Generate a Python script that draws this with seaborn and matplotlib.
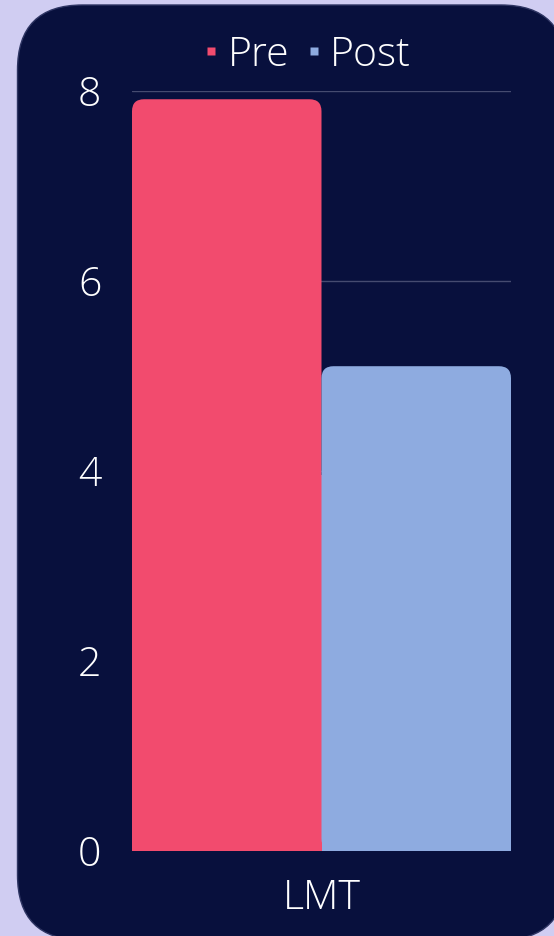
import pandas as pd
import numpy as np
import matplotlib.pyplot as plt
import seaborn as sns
from matplotlib.patches import FancyBboxPatch, Rectangle
from matplotlib.lines import Line2D

# data
tests = ['LMT', 'LMT']
phases = ['Pre', 'Post']
scores = [7.91, 5.10]
colors = ['#f24b6e', '#8eabe0']

df = pd.DataFrame({'test': tests, 'phase': phases, 'score': scores})

bg = '#08103d'
outer = '#d0cdf2'
txt = 'white'
fs = 29.5

sns.set_style('dark')
plt.rcParams['font.family'] = ['Open Sans', 'DejaVu Sans']
plt.rcParams['font.weight'] = 'light'

fig = plt.figure(figsize=(5.54, 9.36), dpi=100)
fig.patch.set_facecolor(outer)

# rounded dark panel behind everything
W, H = 554, 936
panel = FancyBboxPatch((17.5 / W, 1 - 940 / H), (566 - 17.5) / W, (940 - 5) / H,
                       boxstyle='round,pad=0,rounding_size=%f' % (65 / W),
                       mutation_aspect=W / H, transform=fig.transFigure,
                       facecolor=bg, edgecolor='#2e3563', linewidth=1, zorder=-5)
fig.patches.append(panel)

ax = fig.add_axes([132 / W, 1 - 850.7 / H, (511 - 132) / W, (850.7 - 90.7) / H])
ax.set_facecolor('none')

sns.barplot(data=df, x='test', y='score', hue='phase', palette=colors,
            width=0.8, ax=ax, legend=False, saturation=1, errorbar=None)

ax.set_ylim(0, 8)
ax.set_xlim(-0.4, 0.4)
ax.set_yticks([0, 2, 4, 6, 8])
ax.set_yticklabels(['0', '2', '4', '6', '8'])
ax.grid(axis='y', color='#454b70', linewidth=1)
ax.grid(axis='x', visible=False)
ax.set_axisbelow(True)
for s in ax.spines.values():
    s.set_visible(False)
ax.tick_params(axis='y', length=0, pad=22, labelsize=fs, labelcolor=txt)
ax.tick_params(axis='x', length=0, pad=20, labelsize=fs, labelcolor=txt)
ax.set_xlabel('')
ax.set_ylabel('')

# swap square bars for bars with rounded top corners
px_x = (511 - 132) / 0.8
px_y = (850.7 - 90.7) / 8
r = 12
rx = r / px_x
for p in list(ax.patches):
    x, y = p.get_x(), p.get_y()
    w, h = p.get_width(), p.get_height()
    c = p.get_facecolor()
    p.remove()
    ax.add_patch(FancyBboxPatch((x, y), w, h,
                                boxstyle='round,pad=0,rounding_size=%f' % rx,
                                mutation_aspect=px_x / px_y,
                                facecolor=c, edgecolor='none', zorder=2))
    ax.add_patch(Rectangle((x, y), w, h / 2, facecolor=c, edgecolor='none', zorder=2))

handles = [Line2D([], [], marker='s', linestyle='none', markersize=5.8,
                  markerfacecolor=c, markeredgecolor='none') for c in colors]
leg = fig.legend(handles, phases, loc='center', ncol=2,
                 bbox_to_anchor=(308 / W, 1 - 55 / H), frameon=False,
                 fontsize=fs, labelcolor=txt, handlelength=0.3,
                 handletextpad=0.25, columnspacing=0.45, borderpad=0)

fig.savefig('out.png', dpi=100, facecolor=outer)
